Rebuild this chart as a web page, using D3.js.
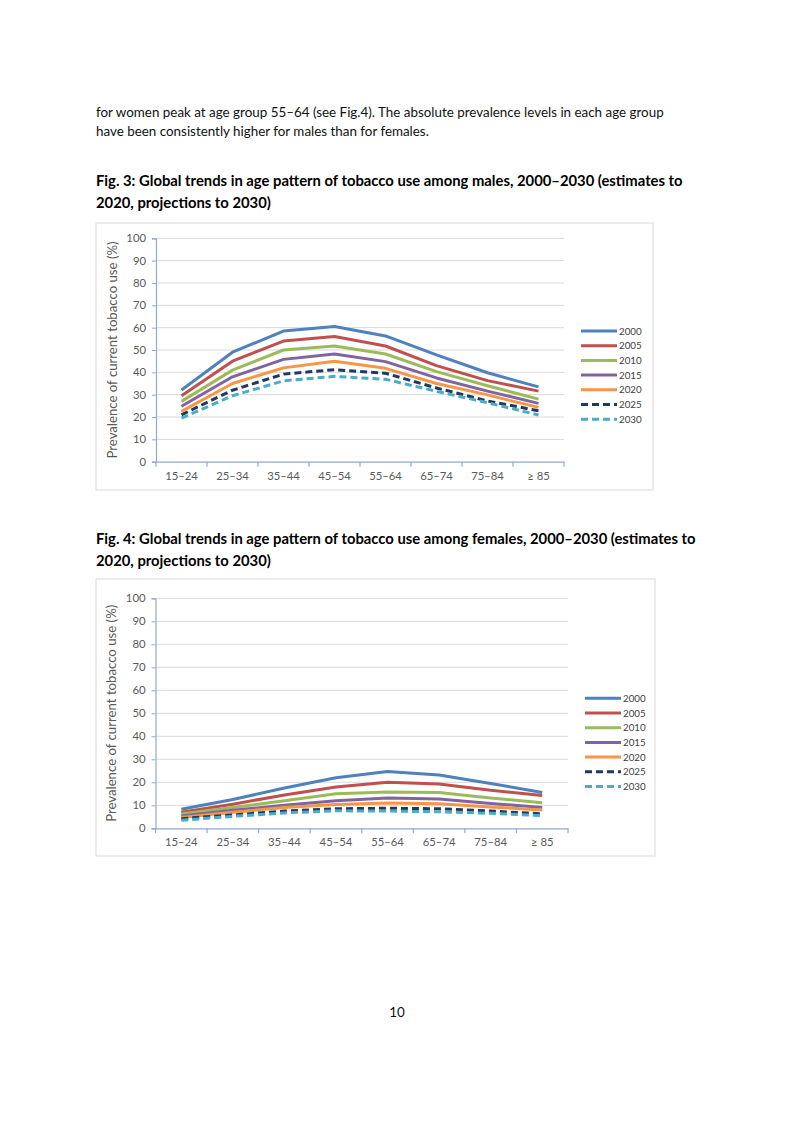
<!DOCTYPE html>
<html><head><meta charset="utf-8">
<script src="https://cdn.jsdelivr.net/npm/d3@7"></script>
<style>body{margin:0;background:#fff;} svg{display:block;}</style>
</head><body>
<svg id="page" width="794" height="1122"></svg>
<script>
const ageGroups = ["15–24","25–34","35–44","45–54","55–64","65–74","75–84","≥ 85"];
const years = ["2000","2005","2010","2015","2020","2025","2030"];
const yTicks = [0,10,20,30,40,50,60,70,80,90,100];
const males2000 = [32.1,49,58.5,60.5,56.3,47.8,39.8,33.5];
const males2005 = [29.5,45,54,56,51.8,43,36.3,31.6];
const males2010 = [27,41,50,51.8,48.2,40.3,34,28];
const males2015 = [24.8,38,45.8,48.2,44.8,37.5,31.6,26.1];
const males2020 = [22.5,35,42,45,41.8,35,29.9,24.3];
const males2025 = [21,32,39.2,41.2,39.6,33,27.2,22.8];
const males2030 = [19.5,29.5,36.2,38.2,36.9,31.5,26.4,20.9];
const females2000 = [8.3,12.5,17.5,22,24.7,23.2,19.5,15.6];
const females2005 = [7,10.5,14.5,18,20,19.3,16.5,14.3];
const females2010 = [6.2,9,12,15,15.8,15.6,13.2,11.1];
const females2015 = [5.3,7.8,10,12,13.2,12.7,10.8,9];
const females2020 = [4.7,7,9,10.3,11,10.7,9.3,8];
const females2025 = [4.2,5.8,7.5,8.5,8.7,8.5,7.5,6.3];
const females2030 = [3.5,5.2,6.7,7.6,7.5,7.2,6.5,5.5];
const paragraph = ["for women peak at age group 55–64 (see Fig.4). The absolute prevalence levels in each age group",
  "have been consistently higher for males than for females."];
const title3 = ["Fig. 3: Global trends in age pattern of tobacco use among males, 2000–2030 (estimates to","2020, projections to 2030)"];
const title4 = ["Fig. 4: Global trends in age pattern of tobacco use among females, 2000–2030 (estimates to","2020, projections to 2030)"];
const yTitle = "Prevalence of current tobacco use (%)";
const pageNumber = "10";

const colors = ["#4F81BD","#C0504D","#9BBB59","#8064A2","#F79646","#1F3864","#4BACC6"];
const dashes = [null,null,null,null,null,"7,4","7,4"];
const font = "Lato, 'Open Sans', sans-serif";

const svg = d3.select("#page");

paragraph.forEach((t,i)=>svg.append("text").attr("x",96).attr("y",117+i*18.5)
  .attr("font-family",font).attr("font-size",13.4).attr("fill","#111").text(t));
function titleLines(lines, y0){
  lines.forEach((t,i)=>svg.append("text").attr("x",96).attr("y",y0+i*21.5)
    .attr("font-family",font).attr("font-size",14.8).attr("font-weight","bold").attr("fill","#000").text(t));
}
titleLines(title3,186);
titleLines(title4,544);
svg.append("text").attr("x",397).attr("y",1017).attr("text-anchor","middle")
  .attr("font-family",font).attr("font-size",13.4).attr("fill","#111").text(pageNumber);

function chart(cfg, series){
  const g = svg.append("g");
  g.append("rect").attr("x",cfg.bx).attr("y",cfg.by).attr("width",cfg.bw).attr("height",cfg.bh)
    .attr("fill","#fff").attr("stroke","#d9d9d9").attr("stroke-width",1);
  const x = d3.scaleBand().domain(ageGroups).range([cfg.x0,cfg.x1]);
  const y = d3.scaleLinear().domain([0,100]).range([cfg.y0,cfg.y1]);
  g.selectAll(".grid").data(yTicks.filter(d=>d>0)).join("line")
    .attr("x1",cfg.x0).attr("x2",cfg.x1).attr("y1",d=>y(d)).attr("y2",d=>y(d))
    .attr("stroke","#d9d9d9").attr("stroke-width",1);
  const ya = g.append("g").attr("transform",`translate(${cfg.x0},0)`)
    .call(d3.axisLeft(y).tickValues(yTicks).tickSize(4).tickPadding(6));
  const xa = g.append("g").attr("transform",`translate(0,${cfg.y0})`)
    .call(d3.axisBottom(x).tickSize(0).tickPadding(10));
  [ya,xa].forEach(a=>{
    a.select(".domain").attr("stroke","#8EAAD0").attr("stroke-width",1.2);
    a.selectAll(".tick line").attr("stroke","#8EAAD0");
    a.selectAll("text").attr("font-family",font).attr("font-size",11.3).attr("fill","#595959");
  });
  const bounds = ageGroups.map(d=>x(d)).concat([cfg.x1]);
  g.selectAll(".xt").data(bounds).join("line")
    .attr("x1",d=>d).attr("x2",d=>d).attr("y1",cfg.y0).attr("y2",cfg.y0+5)
    .attr("stroke","#8EAAD0").attr("stroke-width",1.2);
  g.append("text").attr("transform",`translate(${cfg.tx},${(cfg.y0+cfg.y1)/2}) rotate(-90)`)
    .attr("text-anchor","middle").attr("font-family",font).attr("font-size",13.2).attr("fill","#595959").text(yTitle);
  const line = d3.line().x((d,i)=>x(ageGroups[i])+x.bandwidth()/2).y(d=>y(d));
  series.forEach((s,k)=>{
    g.append("path").datum(s).attr("d",line).attr("fill","none")
      .attr("stroke",colors[k]).attr("stroke-width",3).attr("stroke-linejoin","round")
      .attr("stroke-dasharray",dashes[k]);
  });
  years.forEach((yr,k)=>{
    const ly = cfg.ly + k*14.7;
    g.append("line").attr("x1",cfg.lx).attr("x2",cfg.lx+36).attr("y1",ly).attr("y2",ly)
      .attr("stroke",colors[k]).attr("stroke-width",3).attr("stroke-dasharray",dashes[k]);
    g.append("text").attr("x",cfg.lx+38).attr("y",ly+3.5).attr("font-family",font)
      .attr("font-size",9.8).attr("fill","#404040").text(yr);
  });
}

chart({bx:96,by:223,bw:557,bh:267,x0:156,x1:564,y0:461.7,y1:238.3,tx:117,lx:581,ly:331},
  [males2000,males2005,males2010,males2015,males2020,males2025,males2030]);
chart({bx:96,by:579,bw:559,bh:277,x0:155.5,x1:568,y0:828.3,y1:598.3,tx:116,lx:585,ly:698.3},
  [females2000,females2005,females2010,females2015,females2020,females2025,females2030]);
</script>
</body></html>
